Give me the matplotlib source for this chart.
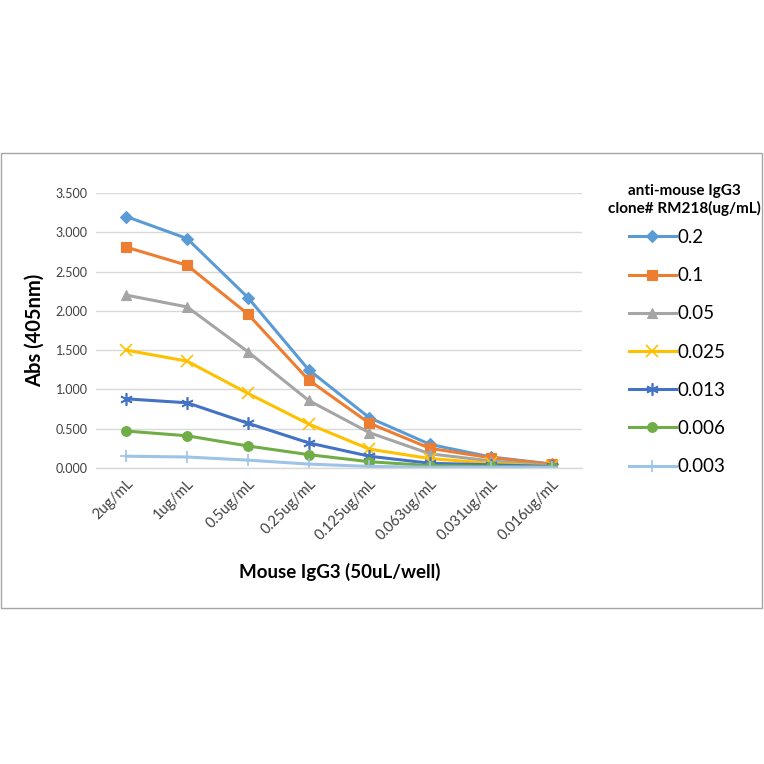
import matplotlib
matplotlib.use("Agg")
import matplotlib.pyplot as plt
from matplotlib.patches import Rectangle

plt.rcParams['font.family'] = ['Lato', 'DejaVu Sans']

categories = ["2ug/mL", "1ug/mL", "0.5ug/mL", "0.25ug/mL", "0.125ug/mL",
              "0.063ug/mL", "0.031ug/mL", "0.016ug/mL"]
series_names = ["0.2", "0.1", "0.05", "0.025", "0.013", "0.006", "0.003"]
s_02 = [3.20, 2.92, 2.17, 1.25, 0.64, 0.30, 0.14, 0.05]
s_01 = [2.81, 2.58, 1.96, 1.12, 0.57, 0.25, 0.13, 0.05]
s_005 = [2.20, 2.05, 1.48, 0.86, 0.45, 0.18, 0.09, 0.03]
s_0025 = [1.50, 1.36, 0.95, 0.56, 0.24, 0.12, 0.06, 0.02]
s_0013 = [0.88, 0.83, 0.57, 0.32, 0.15, 0.06, 0.04, 0.02]
s_0006 = [0.47, 0.41, 0.28, 0.17, 0.08, 0.03, 0.02, 0.01]
s_0003 = [0.15, 0.14, 0.10, 0.05, 0.02, 0.01, 0.01, 0.01]
all_series = [s_02, s_01, s_005, s_0025, s_0013, s_0006, s_0003]
y_ticks = [0, 0.5, 1.0, 1.5, 2.0, 2.5, 3.0, 3.5]

colors = ["#5B9BD5", "#ED7D31", "#A5A5A5", "#FFC000", "#4472C4", "#70AD47", "#9DC3E6"]
markers = ["D", "s", "^", "x", (6, 2, 0), "o", "+"]
msizes = [6, 7.5, 7.5, 8, 9, 7, 9]

fig = plt.figure(figsize=(7.64, 7.64), dpi=100)
fig.patches.append(Rectangle((1/764, 1 - 608/764), 761/764, 455/764, transform=fig.transFigure,
                             fill=False, edgecolor="#A6A6A6", linewidth=1.0))
ax = fig.add_axes([96/764, 1 - 468/764, 486/764, 275/764])

x = list(range(len(categories)))
for vals, name, c, m, ms in zip(all_series, series_names, colors, markers, msizes):
    ax.plot(x, vals, color=c, linewidth=2.2, marker=m, markersize=ms,
            markeredgewidth=1.2 if m in ("x", "+") or isinstance(m, tuple) else 0.8,
            markeredgecolor=c, markerfacecolor=c, label=name)

ax.set_xlim(-0.5, len(categories) - 0.5)
ax.set_ylim(0, 3.5)
ax.set_yticks(y_ticks)
ax.set_yticklabels([f"{v:.3f}" for v in y_ticks], fontsize=9, color="#404040")
ax.set_xticks(x)
ax.set_xticklabels(categories, rotation=45, ha="right", rotation_mode="anchor",
                   fontsize=10.5, color="#404040")
ax.tick_params(axis="both", length=0, pad=6)
ax.grid(axis="y", color="#D9D9D9", linewidth=1)
ax.set_axisbelow(True)
for s in ["top", "right", "left"]:
    ax.spines[s].set_visible(False)
ax.spines["bottom"].set_color("#D9D9D9")
ax.spines["bottom"].set_linewidth(1)

ax.set_ylabel("Abs (405nm)", fontsize=14.5, fontweight="bold", labelpad=8)
fig.text(340/764, 1 - 572/764, "Mouse IgG3 (50uL/well)", fontsize=13.5, fontweight="bold",
         ha="center", va="center")

fig.text(684/764, 1 - 184/764, "anti-mouse IgG3\nclone# RM218(ug/mL)", fontsize=11,
         fontweight="bold", ha="center", va="top", linespacing=1.25)
leg = ax.legend(loc="upper left", bbox_to_anchor=(629/764, 1 - 229/764),
                bbox_transform=fig.transFigure, frameon=False, fontsize=13.5,
                handlelength=2.5, handletextpad=0.1, labelspacing=1.13,
                borderaxespad=0, borderpad=0)

fig.savefig("out.png", dpi=100)
